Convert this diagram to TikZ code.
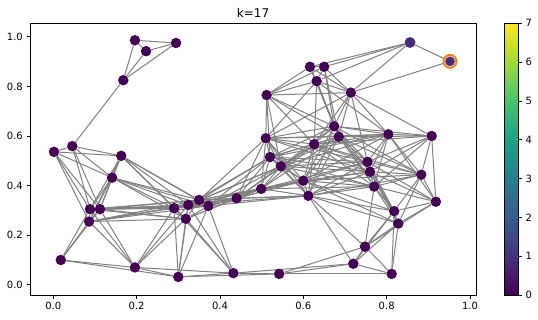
\documentclass[tikz,border=0pt]{standalone}
\usepackage{fontspec}
\setmainfont{DejaVu Sans}
\definecolor{vir0}{HTML}{440154}
\definecolor{vir1}{HTML}{482475}
\definecolor{vir2}{HTML}{414487}
\definecolor{vir3}{HTML}{355F8D}
\definecolor{vir4}{HTML}{2A788E}
\definecolor{vir5}{HTML}{21918C}
\definecolor{vir6}{HTML}{22A884}
\definecolor{vir7}{HTML}{44BF70}
\definecolor{vir8}{HTML}{7AD151}
\definecolor{vir9}{HTML}{BDDF26}
\definecolor{vir10}{HTML}{FDE725}
\definecolor{nodeone}{HTML}{472C7B}
\definecolor{ringorange}{HTML}{FF7F0E}
\definecolor{edgegray}{HTML}{808080}
\pgfdeclareverticalshading{viridis}{100bp}{color(0bp)=(vir0); color(25bp)=(vir0); color(30bp)=(vir1); color(35bp)=(vir2); color(40bp)=(vir3); color(45bp)=(vir4); color(50bp)=(vir5); color(55bp)=(vir6); color(60bp)=(vir7); color(65bp)=(vir8); color(70bp)=(vir9); color(75bp)=(vir10); color(100bp)=(vir10)}
\pgfdeclarelayer{edges}
\pgfsetlayers{edges,main}
\def\xs{{0.196,0.2225,0.2945,0.168,0.0456,0.0017,0.163,0.856,0.952,0.616,0.650,0.632,0.512,0.714,0.674,0.685,0.804,0.908,0.510,0.626,0.520,0.546,0.754,0.760,0.883,0.600,0.499,0.770,0.612,0.918,0.818,0.828,0.748,0.720,0.812,0.542,0.141,0.088,0.112,0.086,0.018,0.196,0.300,0.432,0.290,0.324,0.350,0.372,0.318,0.440}}
\def\ys{{0.986,0.942,0.975,0.825,0.559,0.536,0.520,0.977,0.901,0.879,0.879,0.821,0.765,0.775,0.639,0.597,0.607,0.600,0.591,0.567,0.515,0.478,0.496,0.456,0.444,0.420,0.387,0.396,0.359,0.335,0.297,0.247,0.154,0.085,0.044,0.044,0.432,0.305,0.305,0.255,0.100,0.070,0.032,0.047,0.309,0.322,0.342,0.318,0.266,0.349}}
\begin{document}
\begin{tikzpicture}[x=1pt,y=1pt,
  dot/.style={circle, fill=vir0, inner sep=0pt, minimum size=10.5pt},
  ringdot/.style={circle, fill=ringorange, inner sep=0pt, minimum size=15pt},
  edge/.style={draw=edgegray, line width=1pt},
  frameline/.style={line width=0.8pt, black},
  tickline/.style={line width=0.8pt, black},
  ticklabel/.style={font=\fontsize{10}{12}\selectfont, inner sep=0pt, text=black},
  titlelabel/.style={font=\fontsize{12}{14}\selectfont, inner sep=0pt, text=black}]
\useasboundingbox (0,0) rectangle (538,319);
% data region
\begin{scope}[shift={(53.3,34.2)}, x=416.7pt, y=248pt]
  \node[ringdot] (ring) at ({\xs[8]},{\ys[8]}) {};
  \foreach \i in {0,...,49}{
    \node[dot] (n\i) at ({\xs[\i]},{\ys[\i]}) {};
  }
  \node[dot, fill=nodeone] (n7) at ({\xs[7]},{\ys[7]}) {};
  \node[dot, fill=nodeone, draw=white, line width=0.5pt] (n8) at ({\xs[8]},{\ys[8]}) {};
  \begin{pgfonlayer}{edges}
    \foreach \i in {0,...,48}{
      \pgfmathtruncatemacro\js{\i+1}
      \foreach \j in {\js,...,49}{
        \pgfmathsetmacro\dd{veclen(100*(\xs[\j]-\xs[\i]),100*(\ys[\j]-\ys[\i]))}
        \ifdim\dd pt<30pt
          \draw[edge] (n\i) -- (n\j);
        \fi
      }
    }
  \end{pgfonlayer}
\end{scope}
% axes frame
\draw[frameline] (30,24) rectangle (476,296);
\foreach \v/\t [count=\k] in {0/0.0,0.2/0.2,0.4/0.4,0.6/0.6,0.8/0.8,1/1.0}{
  \pgfmathsetmacro\X{53.3+416.7*\v}
  \draw[tickline] (\X,24) -- (\X,20.5);
  \node[ticklabel, anchor=north] (xl\k) at (\X,17) {\t};
  \pgfmathsetmacro\Y{34.2+248*\v}
  \draw[tickline] (30,\Y) -- (26.5,\Y);
  \node[ticklabel, anchor=east] (yl\k) at (23,\Y) {\t};
}
\node[titlelabel, anchor=base] (title) at (253,301) {k=17};
% colorbar
\shade[shading=viridis] (504.3,24) rectangle (518.3,295.7);
\draw[frameline] (504.3,24) rectangle (518.3,295.7);
\foreach \v in {0,...,7}{
  \pgfmathsetmacro\Y{24+38.81*\v}
  \draw[tickline] (518.3,\Y) -- (521.8,\Y);
  \node[ticklabel, anchor=west] (cl\v) at (525.3,\Y) {\v};
}
\end{tikzpicture}
\end{document}
